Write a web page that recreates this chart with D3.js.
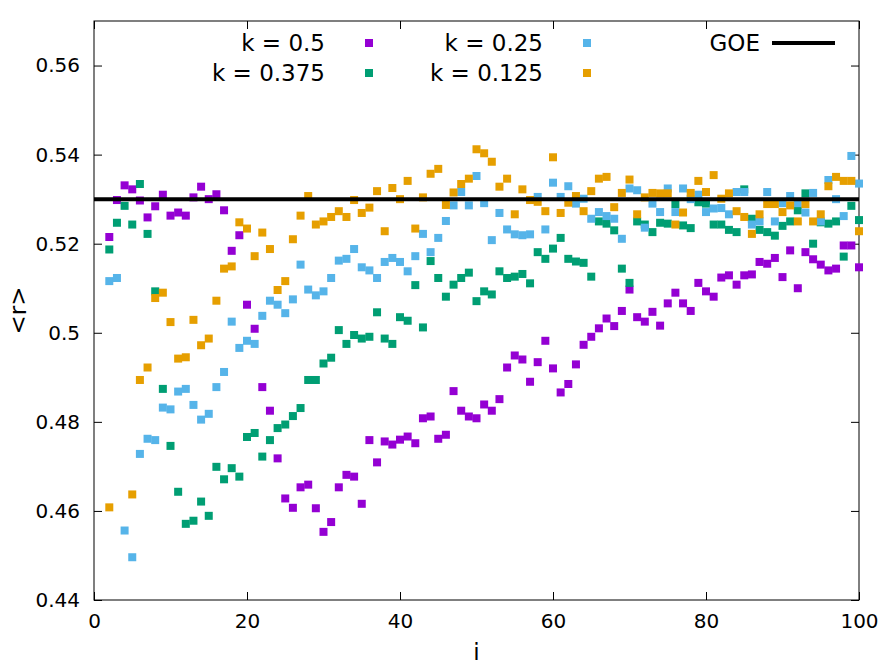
<!DOCTYPE html>
<html><head><meta charset="utf-8">
<script src="https://cdn.jsdelivr.net/npm/d3@7"></script>
<style>body{margin:0;background:#fff}svg{display:block}text{font-family:"DejaVu Sans",sans-serif}</style>
</head><body><svg id="c" width="889" height="667"></svg>
<script>
const startI = 2;
const k05 = [0.5215,0.5298,0.5331,0.5322,0.5297,0.5259,0.5284,0.5310,0.5263,0.5270,0.5263,0.5304,0.5328,0.5300,0.5311,0.5275,0.5184,0.5219,0.5063,0.5009,0.4878,0.4825,0.4718,0.4628,0.4607,0.4653,0.4659,0.4606,0.4553,0.4575,0.4653,0.4681,0.4677,0.4616,0.4759,0.4709,0.4756,0.4749,0.4760,0.4767,0.4752,0.4808,0.4812,0.4762,0.4771,0.4869,0.4825,0.4812,0.4808,0.4839,0.4825,0.4851,0.4922,0.4949,0.4940,0.4890,0.4934,0.4982,0.4920,0.4866,0.4885,0.4929,0.4973,0.4991,0.5010,0.5032,0.5015,0.5049,0.5097,0.5035,0.5025,0.5047,0.5016,0.5066,0.5090,0.5066,0.5049,0.5112,0.5093,0.5081,0.5124,0.5129,0.5108,0.5129,0.5131,0.5159,0.5155,0.5168,0.5125,0.5185,0.5100,0.5181,0.5165,0.5153,0.5140,0.5144,0.5196,0.5196,0.5147];
const k0375 = [0.5187,0.5247,0.5285,0.5243,0.5334,0.5222,0.5093,0.4874,0.4746,0.4643,0.4571,0.4578,0.4621,0.4589,0.4699,0.4671,0.4696,0.4677,0.4766,0.4775,0.4722,0.4759,0.4786,0.4794,0.4813,0.4831,0.4894,0.4894,0.4931,0.4944,0.5006,0.4975,0.4995,0.4987,0.4991,0.5046,0.4987,0.4975,0.5035,0.5027,0.5107,0.5012,0.5161,0.5123,0.5081,0.5108,0.5123,0.5135,0.5071,0.5093,0.5086,0.5138,0.5123,0.5126,0.5132,0.5111,0.5181,0.5166,0.5189,0.5213,0.5166,0.5160,0.5157,0.5126,0.5250,0.5245,0.5230,0.5144,0.5112,0.5250,0.5243,0.5226,0.5247,0.5245,0.5289,0.5241,0.5235,0.5293,0.5290,0.5243,0.5243,0.5231,0.5226,0.5322,0.5256,0.5231,0.5226,0.5218,0.5240,0.5250,0.5275,0.5313,0.5200,0.5248,0.5245,0.5250,0.5171,0.5285,0.5253];
const k025 = [0.5116,0.5123,0.4556,0.4496,0.4728,0.4762,0.4759,0.4832,0.4828,0.4868,0.4874,0.4838,0.4805,0.4818,0.4878,0.4912,0.5025,0.4966,0.4982,0.4975,0.5038,0.5072,0.5063,0.5044,0.5075,0.5153,0.5097,0.5084,0.5093,0.5123,0.5162,0.5166,0.5188,0.5147,0.5140,0.5123,0.5159,0.5168,0.5159,0.5138,0.5172,0.5222,0.5181,0.5213,0.5251,0.5286,0.5316,0.5286,0.5352,0.5291,0.5208,0.5269,0.5232,0.5221,0.5219,0.5221,0.5305,0.5232,0.5337,0.5305,0.5329,0.5290,0.5301,0.5256,0.5271,0.5262,0.5256,0.5211,0.5324,0.5320,0.5236,0.5290,0.5271,0.5324,0.5271,0.5324,0.5300,0.5310,0.5271,0.5279,0.5280,0.5266,0.5316,0.5316,0.5243,0.5250,0.5316,0.5250,0.5291,0.5307,0.5291,0.5270,0.5314,0.5250,0.5343,0.5300,0.5262,0.5397,0.5335];
// k = 0.125 has no visible marks at i = 3 and 4 (null)
const k0125 = [0.4608,null,null,0.4637,0.4894,0.4922,0.5078,0.5090,0.5024,0.4942,0.4945,0.5029,0.4972,0.4987,0.5072,0.5144,0.5149,0.5248,0.5234,0.5172,0.5225,0.5188,0.5096,0.5116,0.5210,0.5263,0.5307,0.5243,0.5250,0.5260,0.5273,0.5260,0.5298,0.5269,0.5281,0.5318,0.5228,0.5325,0.5300,0.5341,0.5234,0.5304,0.5357,0.5368,0.5287,0.5315,0.5334,0.5346,0.5412,0.5403,0.5384,0.5328,0.5346,0.5266,0.5322,0.5298,0.5294,0.5273,0.5394,0.5269,0.5292,0.5307,0.5273,0.5318,0.5346,0.5350,0.5282,0.5314,0.5344,0.5266,0.5304,0.5314,0.5313,0.5313,0.5243,0.5270,0.5314,0.5341,0.5316,0.5354,0.5301,0.5313,0.5273,0.5260,0.5222,0.5266,0.5289,0.5289,0.5271,0.5286,0.5250,0.5289,0.5250,0.5266,0.5329,0.5350,0.5341,0.5341,0.5228];
const goe = 0.53;
const seriesNames = ["k = 0.5","k = 0.375","k = 0.25","k = 0.125"];
const seriesColors = ["#9400d3","#009e73","#56b4e9","#e69f00"];
const xTicks = [0,20,40,60,80,100];
const yTicks = [0.44,0.46,0.48,0.5,0.52,0.54,0.56];
const yTickLabels = ["0.44","0.46","0.48","0.5","0.52","0.54","0.56"];

const svg = d3.select("#c");
const L=94,R=859,T=21,B=600;
const x = d3.scaleLinear().domain([0,100]).range([L,R]);
const y = d3.scaleLinear().domain([0.44,0.57]).range([B,T]);
const all=[k05,k0375,k025,k0125];

// frame
svg.append("rect").attr("x",L).attr("y",T).attr("width",R-L).attr("height",B-T)
  .attr("fill","none").attr("stroke","#000").attr("stroke-width",1);

// axes
const ax = svg.append("g").attr("transform",`translate(0,${B})`)
  .call(d3.axisBottom(x).tickValues(xTicks).tickSize(-8).tickPadding(14).tickFormat(d3.format("d")));
const ay = svg.append("g").attr("transform",`translate(${L},0)`)
  .call(d3.axisLeft(y).tickValues(yTicks).tickSize(-8).tickPadding(14).tickFormat((d,i)=>yTickLabels[i]));
const axT = svg.append("g").attr("transform",`translate(0,${T})`)
  .call(d3.axisTop(x).tickValues(xTicks).tickSize(-8).tickFormat(""));
const ayR = svg.append("g").attr("transform",`translate(${R},0)`)
  .call(d3.axisRight(y).tickValues(yTicks).tickSize(-8).tickFormat(""));
[ax,ay,axT,ayR].forEach(g=>{g.select(".domain").remove();g.selectAll("line").attr("stroke","#000");
  g.selectAll("text").attr("font-size",20).attr("fill","#000").style("font-family","DejaVu Sans, sans-serif");});

// points
const sz=8;
all.forEach((arr,si)=>{
  const pts = arr.map((v,j)=>({i:startI+j,v})).filter(d=>d.v!==null);
  svg.append("g").selectAll("rect").data(pts).join("rect")
    .attr("x",d=>x(d.i)-sz/2).attr("y",d=>y(d.v)-sz/2).attr("width",sz).attr("height",sz)
    .attr("fill",seriesColors[si]);
});

// GOE line
svg.append("line").attr("x1",x(0)).attr("x2",x(100)).attr("y1",y(goe)).attr("y2",y(goe))
  .attr("stroke","#000").attr("stroke-width",4);

// legend
const lf=23;
const leg = [
  {t:seriesNames[0],tx:325,ty:43,mx:369},
  {t:seriesNames[1],tx:325,ty:73,mx:369},
  {t:seriesNames[2],tx:543,ty:43,mx:587},
  {t:seriesNames[3],tx:543,ty:73,mx:587}];
leg.forEach((d,i)=>{
  svg.append("text").attr("x",d.tx).attr("y",d.ty).attr("dy","0.35em").attr("text-anchor","end")
    .attr("font-size",lf).text(d.t);
  svg.append("rect").attr("x",d.mx-sz/2).attr("y",d.ty-sz/2).attr("width",sz).attr("height",sz).attr("fill",seriesColors[i]);
});
svg.append("text").attr("x",760).attr("y",43).attr("dy","0.35em").attr("text-anchor","end").attr("font-size",lf).text("GOE");
svg.append("line").attr("x1",772).attr("x2",835).attr("y1",43).attr("y2",43).attr("stroke","#000").attr("stroke-width",4);

// axis titles
svg.append("text").attr("x",(L+R)/2).attr("y",660).attr("text-anchor","middle").attr("font-size",lf).text("i");
svg.append("text").attr("transform",`translate(26,${(T+B)/2}) rotate(-90)`).attr("text-anchor","middle").attr("font-size",lf).text("<r>");
</script></body></html>
